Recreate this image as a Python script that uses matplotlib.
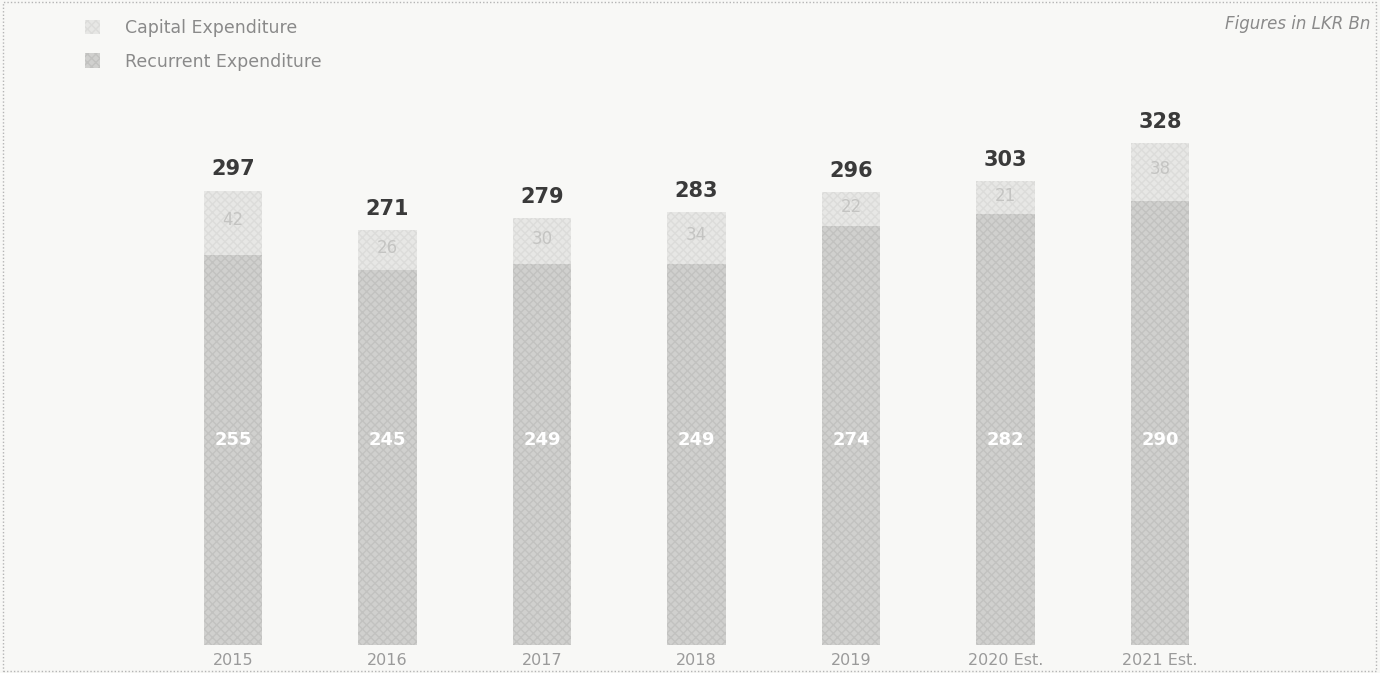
import matplotlib.pyplot as plt
from matplotlib.patches import Rectangle, Patch
import numpy as np

# data (LKR Bn)
years = ['2015', '2016', '2017', '2018', '2019', '2020 Est.', '2021 Est.']
recurrent = [255, 245, 249, 249, 274, 282, 290]
capital = [42, 26, 30, 34, 22, 21, 38]

# colours
bg = '#f8f8f6'
cap_col = '#e7e7e5'
rec_col = '#d0d0ce'

fig = plt.figure(figsize=(13.8, 6.73), dpi=100)
fig.patch.set_facecolor(bg)

# axes placed so bars sit on y=645px and spacing is ~155px
px_unit = 1.53
ax = fig.add_axes([0, 28 / 673, 1, 350 * px_unit / 673])
ax.set_facecolor(bg)
ax.set_xlim(-233 / 154.5, (1380 - 233) / 154.5)
ax.set_ylim(0, 350)

x = np.arange(len(years))
totals = [r + c for r, c in zip(recurrent, capital)]
w = 0.38

ax.bar(x, recurrent, width=w, color=rec_col, hatch='xxxx', edgecolor='#c2c2c0', linewidth=0)
ax.bar(x, capital, width=w, bottom=recurrent, color=cap_col, hatch='xxxx', edgecolor='#dcdcda', linewidth=0)

for i in range(len(years)):
    # total on top
    ax.annotate(str(totals[i]), (x[i], totals[i]), xytext=(0, 8), textcoords='offset points',
                ha='center', va='bottom', fontsize=15, fontweight='bold', color='#3a3a3a')
    # capital value
    ax.text(x[i], recurrent[i] + capital[i] * 0.55, str(capital[i]), ha='center', va='center',
            fontsize=12, color='#c4c4c2')
    # recurrent value
    ax.text(x[i], 134, str(recurrent[i]), ha='center', va='center',
            fontsize=13, fontweight='bold', color='white')

ax.set_xticks(x)
ax.set_xticklabels(years, fontsize=11.5, color='#9a9a9a')
ax.tick_params(axis='x', length=0, pad=6)
ax.set_yticks([])
for s in ax.spines.values():
    s.set_visible(False)

# legend
handles = [Patch(facecolor=cap_col, edgecolor='#dcdcda', hatch='xxxx', linewidth=0, label='Capital Expenditure'),
           Patch(facecolor=rec_col, edgecolor='#c2c2c0', hatch='xxxx', linewidth=0, label='Recurrent Expenditure')]
fig.legend(handles=handles, loc='upper left', bbox_to_anchor=(0.05, 0.995), frameon=False,
           fontsize=12.5, labelcolor='#8a8a8a', handlelength=0.9, handleheight=0.9,
           handletextpad=1.4, labelspacing=0.9)

fig.text(0.993, 0.965, 'Figures in LKR Bn', ha='right', va='center', fontsize=12,
         style='italic', color='#8a8a8a')

# dotted frame
fig.patches.append(Rectangle((0.002, 0.003), 0.995, 0.994, transform=fig.transFigure,
                             fill=False, edgecolor='#b5b5b5', linestyle=(0, (1, 1.5)), linewidth=1))

fig.savefig('out.png', dpi=100, facecolor=bg)
